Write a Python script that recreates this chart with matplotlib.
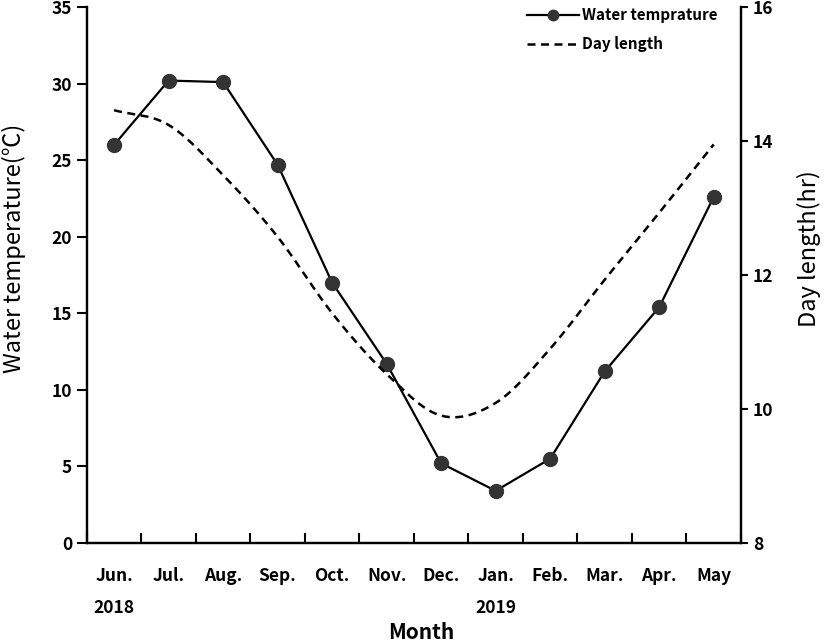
import matplotlib
matplotlib.use("Agg")
import matplotlib.pyplot as plt
import numpy as np

plt.rcParams['font.family'] = ['Noto Sans CJK KR', 'DejaVu Sans']

months = ["Jun.", "Jul.", "Aug.", "Sep.", "Oct.", "Nov.", "Dec.", "Jan.", "Feb.", "Mar.", "Apr.", "May"]
years = {"2018": 0, "2019": 7}
water_temp = [26.0, 30.2, 30.1, 24.7, 17.0, 11.7, 5.2, 3.4, 5.5, 11.2, 15.4, 22.6]
day_length = [14.46, 14.24, 13.49, 12.57, 11.43, 10.52, 9.90, 10.09, 10.90, 11.93, 12.93, 13.95]


def smooth(xs, ys, n=30):
    xs = np.asarray(xs, float)
    ys = np.asarray(ys, float)
    px, py = [], []
    m = len(xs)
    for i in range(m - 1):
        p0 = ys[i - 1] if i > 0 else ys[i]
        p1, p2 = ys[i], ys[i + 1]
        p3 = ys[i + 2] if i + 2 < m else ys[i + 1]
        m1 = (p2 - p0) / (2 if i > 0 else 1)
        m2 = (p3 - p1) / (2 if i + 2 < m else 1)
        t = np.linspace(0, 1, n, endpoint=False)
        h00 = 2 * t**3 - 3 * t**2 + 1
        h10 = t**3 - 2 * t**2 + t
        h01 = -2 * t**3 + 3 * t**2
        h11 = t**3 - t**2
        px.extend(xs[i] + t * (xs[i + 1] - xs[i]))
        py.extend(h00 * p1 + h10 * m1 + h01 * p2 + h11 * m2)
    px.append(xs[-1])
    py.append(ys[-1])
    return np.array(px), np.array(py)


fig = plt.figure(figsize=(8.27, 6.44), dpi=100)
ax = fig.add_axes([0.105, 0.157, 0.791, 0.832])
ax2 = ax.twinx()

x = np.arange(len(months))
l1, = ax.plot(x, water_temp, color='black', lw=1.6, marker='o', markersize=10,
              markerfacecolor='#333333', markeredgecolor='#333333', label='Water temprature', zorder=3)
sx, sy = smooth(x, day_length)
l2, = ax2.plot(sx, sy, color='black', lw=1.8, linestyle=(0, (3.2, 2.2)), label='Day length')

ax.set_xlim(-0.5, 11.5)
ax.set_ylim(0, 35)
ax2.set_ylim(8, 16)
ax.set_yticks(range(0, 36, 5))
ax2.set_yticks(range(8, 17, 2))

ax.set_xticks(np.arange(-0.5, 12, 1))
ax.set_xticklabels([])
ax.tick_params(axis='x', which='major', direction='in', length=7, width=1.5)
ax.set_xticks(x, minor=True)
ax.set_xticklabels(months, minor=True, fontsize=12.5, fontweight='bold')
ax.tick_params(axis='x', which='minor', length=0, pad=17)

for lab, pos in years.items():
    ax.text(pos, -0.121, lab, transform=ax.get_xaxis_transform(), ha='center', va='center',
            fontsize=12.5, fontweight='bold')

ax.tick_params(axis='y', direction='out', length=7, width=1.5, labelsize=12.5)
ax2.tick_params(axis='y', direction='out', length=5, width=1.5, labelsize=12.5)
for t in ax.get_yticklabels() + ax2.get_yticklabels():
    t.set_fontweight('bold')

for a in (ax, ax2):
    a.spines['top'].set_visible(False)
    for s in ('left', 'right', 'bottom'):
        a.spines[s].set_linewidth(1.6)

ax.set_ylabel('Water temperature(℃)', fontsize=17)
ax.yaxis.set_label_coords(-0.093, 0.55)
ax2.set_ylabel('Day length(hr)', fontsize=17)
ax2.yaxis.set_label_coords(1.086, 0.55)
fig.text(0.509, 0.018, 'Month', ha='center', va='center', fontsize=15, fontweight='bold')

leg = ax.legend(handles=[l1, l2], loc='upper right', bbox_to_anchor=(0.985, 1.025), frameon=False,
                fontsize=11, handlelength=3.4, handletextpad=0.2, labelspacing=0.85, markerscale=0.75)
for t in leg.get_texts():
    t.set_fontweight('bold')

fig.savefig('out.png', dpi=100)
